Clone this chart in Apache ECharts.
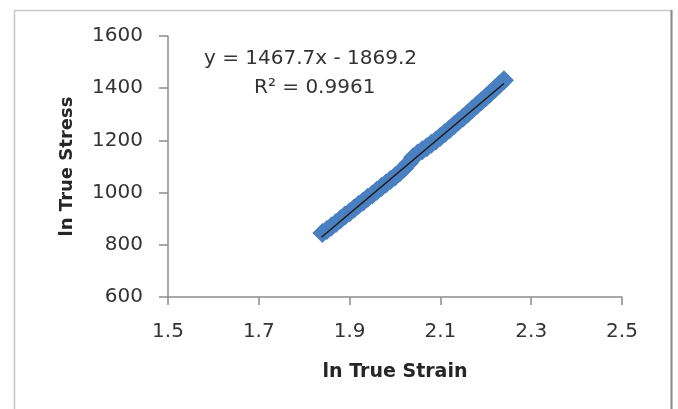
<!DOCTYPE html>
<html>
<head>
<meta charset="utf-8">
<script src="https://cdn.jsdelivr.net/npm/echarts@6/dist/echarts.min.js"></script>
<style>
  html, body { margin: 0; padding: 0; background: #fff; }
  #chart { width: 678px; height: 409px; }
</style>
</head>
<body>
<div id="chart"></div>
<script>
// ln true strain / ln true stress readings (estimated from the plot)
const strain = [
  1.84, 1.85, 1.86, 1.87, 1.88, 1.89, 1.90, 1.91, 1.92, 1.93,
  1.94, 1.95, 1.96, 1.97, 1.98, 1.99, 2.00, 2.01, 2.02, 2.03,
  2.04, 2.05, 2.06, 2.07, 2.08, 2.09, 2.10, 2.11, 2.12, 2.13,
  2.14, 2.15, 2.16, 2.17, 2.18, 2.19, 2.20, 2.21, 2.22, 2.23, 2.24
]
const stress = [
  845, 857, 870, 884, 898, 912, 925, 939, 953, 966,
  980, 993, 1007, 1021, 1035, 1048, 1062, 1077, 1093, 1112,
  1135, 1150, 1162, 1174, 1187, 1200, 1214, 1228, 1243, 1258,
  1273, 1288, 1303, 1319, 1335, 1350, 1365, 1382, 1398, 1414, 1430
]
// linear trendline end points
const trendX = [1.838, 2.24]
const trendY = [829, 1418]

const equationText = 'y = 1467.7x - 1869.2'
const r2Text = 'R² = 0.9961'

const font = 'DejaVu Sans'
const axisColor = '#8c8c8c'

const chart = echarts.init(document.getElementById('chart'))
chart.setOption({
  backgroundColor: '#fff',
  animation: false,
  grid: { left: 168, right: 56, top: 36, bottom: 112 },
  xAxis: {
    type: 'value',
    min: 1.5, max: 2.5, interval: 0.2,
    name: 'ln True Strain',
    nameLocation: 'middle',
    nameGap: 66,
    nameTextStyle: { fontFamily: font, fontWeight: 'bold', fontSize: 19, color: '#262626' },
    axisLine: { lineStyle: { color: axisColor, width: 1.5 } },
    axisTick: { length: 8, lineStyle: { color: axisColor, width: 1.5 } },
    axisLabel: {
      margin: 25,
      fontFamily: font, fontSize: 20, color: '#333',
      formatter: v => v.toFixed(1)
    },
    splitLine: { show: false }
  },
  yAxis: {
    type: 'value',
    min: 600, max: 1600, interval: 200,
    name: 'ln True Stress',
    nameLocation: 'middle',
    nameGap: 92,
    nameTextStyle: { fontFamily: font, fontWeight: 'bold', fontSize: 18, color: '#262626' },
    axisLine: { show: true, lineStyle: { color: axisColor, width: 1.5 } },
    axisTick: { show: true, length: 9, lineStyle: { color: axisColor, width: 1.5 } },
    axisLabel: {
      margin: 25, fontFamily: font, fontSize: 20, color: '#333',
      formatter: v => String(v)
    },
    splitLine: { show: false }
  },
  graphic: [
    {
      type: 'rect', z: -1,
      shape: { x: 14.5, y: 10.5, width: 657, height: 420 },
      style: { fill: 'none', stroke: '#c8c8c8', lineWidth: 1.5 }
    },
    {
      type: 'line',
      shape: { x1: 671.5, y1: 10, x2: 671.5, y2: 409 },
      style: { stroke: '#8c8c8c', lineWidth: 2 }
    },
    {
      type: 'text', left: 204, top: 49,
      style: { text: equationText, font: '20px "DejaVu Sans"', fill: '#333' }
    },
    {
      type: 'text', left: 254, top: 78,
      style: { text: r2Text, font: '20px "DejaVu Sans"', fill: '#333' }
    }
  ],
  series: [
    {
      type: 'scatter',
      symbol: 'diamond',
      symbolSize: 20,
      itemStyle: { color: '#4a7fc0', opacity: 1 },
      data: strain.map((x, i) => [x, stress[i]])
    },
    {
      type: 'line',
      symbol: 'none',
      lineStyle: { color: '#1a1a1a', width: 1.5 },
      data: trendX.map((x, i) => [x, trendY[i]]),
      z: 3
    }
  ]
})
</script>
</body>
</html>
